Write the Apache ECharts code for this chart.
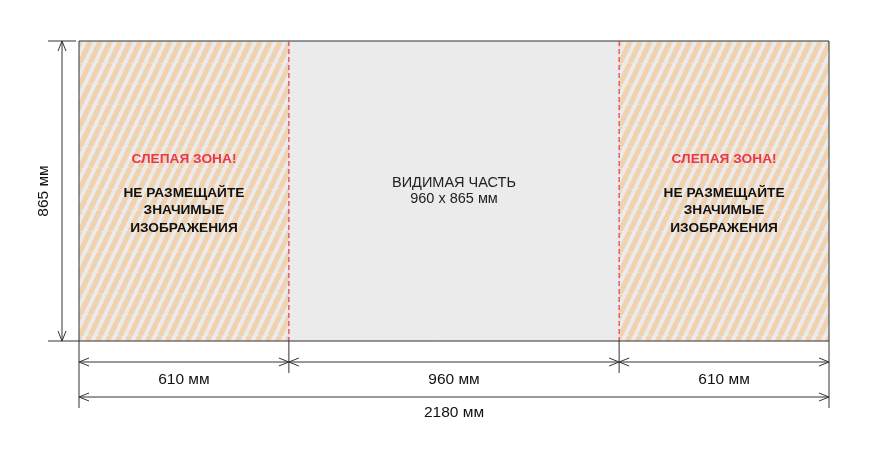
<!DOCTYPE html>
<html><head><meta charset="utf-8">
<script src="https://cdn.jsdelivr.net/npm/echarts@6/dist/echarts.min.js"></script>
<style>html,body{margin:0;background:#fff}#c{width:880px;height:450px}</style>
</head><body><div id="c"></div>
<script>
const zoneWidths = [610, 960, 610];
const totalHeight = 865;
const zoneTypes = ['blind', 'visible', 'blind'];
const blindTitle = 'СЛЕПАЯ ЗОНА!';
const blindLines = ['НЕ РАЗМЕЩАЙТЕ', 'ЗНАЧИМЫЕ', 'ИЗОБРАЖЕНИЯ'];
const visibleLines = ['ВИДИМАЯ ЧАСТЬ', '960 x 865 мм'];
const unit = ' мм';

const totalWidth = zoneWidths.reduce((a, b) => a + b, 0);
const bounds = [0];
zoneWidths.forEach(w => bounds.push(bounds[bounds.length - 1] + w));

const W = 10, H = 21;
const pc = document.createElement('canvas');
pc.width = W; pc.height = H;
const g = pc.getContext('2d');
g.fillStyle = '#ebebeb'; g.fillRect(0, 0, W, H);
g.strokeStyle = '#f0d2b0'; g.lineWidth = 5.2;
for (let k = -1; k <= 1; k++) {
  g.beginPath(); g.moveTo(k * W, H); g.lineTo(k * W + W, 0); g.stroke();
}

const FONT = 'Liberation Sans, Arial, sans-serif';
const LC = '#333';

function line(x1, y1, x2, y2, extra) {
  return { type: 'line', shape: { x1, y1, x2, y2 }, style: Object.assign({ stroke: LC, lineWidth: 1 }, extra || {}) };
}
function arrowDim(x1, y1, x2, y2, out) {
  const dx = x2 - x1, dy = y2 - y1, L = Math.hypot(dx, dy);
  const ux = dx / L, uy = dy / L, px = -uy, py = ux;
  const a = 10, h = 4;
  out.push(line(x1, y1, x2, y2));
  out.push({ type: 'polyline', shape: { points: [[x1 + ux * a + px * h, y1 + uy * a + py * h], [x1, y1], [x1 + ux * a - px * h, y1 + uy * a - py * h]] }, style: { stroke: LC, fill: null, lineWidth: 1 } });
  out.push({ type: 'polyline', shape: { points: [[x2 - ux * a + px * h, y2 - uy * a + py * h], [x2, y2], [x2 - ux * a - px * h, y2 - uy * a - py * h]] }, style: { stroke: LC, fill: null, lineWidth: 1 } });
}
function text(x, y, t, size, color, weight, extra) {
  return Object.assign({ type: 'text', x, y, style: { text: t, fontSize: size, fill: color, fontWeight: weight || 'normal', fontFamily: FONT, align: 'center', verticalAlign: 'middle' } }, extra || {});
}

function renderItem(params, api) {
  const out = [];
  const xs = bounds.map(b => api.coord([b, 0])[0]);
  const yTop = api.coord([0, totalHeight])[1];
  const yBot = api.coord([0, 0])[1];
  const midY = (yTop + yBot) / 2;
  zoneTypes.forEach((t, i) => {
    out.push({ type: 'rect', shape: { x: xs[i], y: yTop, width: xs[i + 1] - xs[i], height: yBot - yTop },
      style: { fill: t === 'blind' ? { image: pc, repeat: 'repeat' } : '#ebebeb' } });
    const cx = (xs[i] + xs[i + 1]) / 2;
    if (t === 'blind') {
      out.push(text(cx, midY - 32, blindTitle, 13.7, '#e8384f', 'bold'));
      blindLines.forEach((s, j) => out.push(text(cx, midY + 2 + j * 17.5, s, 13.7, '#111', 'bold')));
    } else {
      visibleLines.forEach((s, j) => out.push(text(cx, midY - 8 + j * 16, s, 14.5, '#222')));
    }
  });
  out.push(line(xs[0], yTop, xs[3], yTop));
  out.push(line(xs[0], yTop, xs[0], yBot));
  out.push(line(xs[3], yTop, xs[3], yBot));
  for (let i = 1; i < xs.length - 1; i++) out.push(line(xs[i], yTop, xs[i], yBot, { stroke: '#e8384f', lineWidth: 1.2, lineDash: [5, 3] }));
  out.push(line(xs[0] - 31, yBot, xs[3], yBot));
  out.push(line(xs[0] - 31, yTop, xs[0] - 3, yTop));
  arrowDim(xs[0] - 17, yTop, xs[0] - 17, yBot, out);
  out.push(text(xs[0] - 35, midY, totalHeight + unit, 15.5, '#111', 'normal', { rotation: Math.PI / 2 }));
  xs.forEach((x, i) => {
    const end = (i === 0 || i === xs.length - 1) ? yBot + 67 : yBot + 32;
    out.push(line(x, yBot, x, end));
  });
  for (let i = 0; i < zoneWidths.length; i++) {
    arrowDim(xs[i], yBot + 21, xs[i + 1], yBot + 21, out);
    out.push(text((xs[i] + xs[i + 1]) / 2, yBot + 39, zoneWidths[i] + unit, 15.5, '#111'));
  }
  arrowDim(xs[0], yBot + 56, xs[3], yBot + 56, out);
  out.push(text((xs[0] + xs[3]) / 2, yBot + 72, totalWidth + unit, 15.5, '#111'));
  return { type: 'group', children: out };
}

const chart = echarts.init(document.getElementById('c'));
chart.setOption({
  animation: false,
  grid: { left: 79, top: 41, width: 750, height: 300 },
  xAxis: { type: 'value', min: 0, max: totalWidth, show: false },
  yAxis: { type: 'value', min: 0, max: totalHeight, show: false },
  series: [{ type: 'custom', renderItem, clip: false, data: [[0, 0]] }]
});
</script></body></html>
